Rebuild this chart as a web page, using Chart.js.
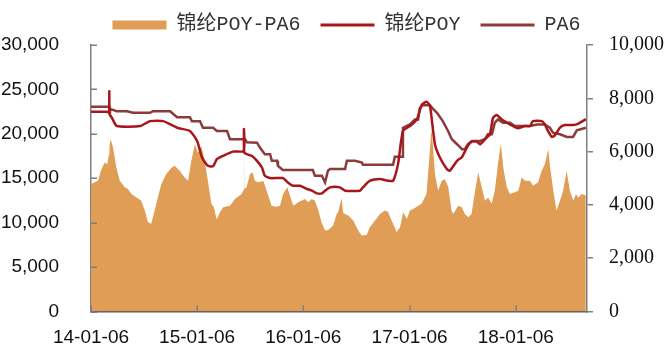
<!DOCTYPE html>
<html>
<head>
<meta charset="utf-8">
<script src="https://cdn.jsdelivr.net/npm/chart.js@4.4.1/dist/chart.umd.min.js"></script>
<style>
  html, body { margin: 0; padding: 0; background: #fff; }
  #wrap { width: 665px; height: 347px; }
</style>
</head>
<body>
<div id="wrap"><canvas id="spreadChart" width="665" height="347"></canvas></div>
<script>
// 锦纶POY - PA6 价差 (右轴, 面积)
const spreadDates = [
  "2014-01-06","2014-01-30","2014-02-09","2014-02-22","2014-03-03","2014-03-09","2014-03-10","2014-03-11",
  "2014-03-14","2014-03-23","2014-04-03","2014-04-15","2014-05-02","2014-05-13","2014-05-25","2014-06-11",
  "2014-06-28","2014-07-10","2014-07-21","2014-08-01","2014-08-13","2014-08-24","2014-09-05","2014-09-22",
  "2014-10-09","2014-10-21","2014-11-07","2014-11-24","2014-12-06","2014-12-17","2014-12-29","2015-01-09",
  "2015-01-20","2015-02-01","2015-02-12","2015-02-24","2015-03-05","2015-03-14","2015-03-26","2015-04-06",
  "2015-04-29","2015-05-16","2015-06-08","2015-06-15","2015-06-16","2015-06-17","2015-06-25","2015-07-07",
  "2015-07-16","2015-07-24","2015-08-04","2015-08-22","2015-09-02","2015-09-19","2015-10-07","2015-10-18",
  "2015-10-29","2015-11-12","2015-11-21","2015-12-03","2015-12-20","2016-01-12","2016-01-23","2016-02-04",
  "2016-02-15","2016-02-27","2016-03-09","2016-03-21","2016-04-01","2016-04-18","2016-04-30","2016-05-05",
  "2016-05-17","2016-05-22","2016-06-09","2016-06-26","2016-07-13","2016-07-25","2016-08-11","2016-08-22",
  "2016-09-09","2016-09-26","2016-10-13","2016-10-24","2016-11-05","2016-11-22","2016-12-04","2016-12-15",
  "2016-12-27","2017-01-07","2017-01-18","2017-02-05","2017-02-16","2017-03-05","2017-03-13","2017-03-21",
  "2017-03-22","2017-03-23","2017-04-03","2017-04-14","2017-04-26","2017-05-07","2017-05-19","2017-05-30",
  "2017-06-05","2017-06-22","2017-07-04","2017-07-15","2017-07-27","2017-08-07","2017-08-19","2017-08-30",
  "2017-09-11","2017-09-22","2017-10-03","2017-10-15","2017-10-26","2017-11-07","2017-11-16","2017-11-24",
  "2017-12-06","2017-12-17","2018-01-03","2018-01-15","2018-01-26","2018-02-07","2018-02-24","2018-03-07",
  "2018-03-24","2018-04-05","2018-04-16","2018-04-28","2018-05-03","2018-05-15","2018-05-26","2018-06-07",
  "2018-06-18","2018-06-30","2018-07-11","2018-07-23","2018-08-01","2018-08-09","2018-08-21","2018-09-04"
];
const spreadValues = [
  4780,4910,5280,5590,5530,5900,8700,6200,
  6460,6150,5400,4910,4660,4600,4410,4280,
  4160,3790,3350,3290,3790,4280,4780,5160,
  5380,5470,5280,5030,4910,5650,6280,5960,
  6210,5650,4910,4040,3900,3450,3730,3910,
  3970,4220,4410,4560,6800,4600,4660,5160,
  5220,4910,4850,4900,4530,3970,3930,3970,
  4410,4660,4350,3970,4100,4220,4100,4220,
  4160,3790,3350,3040,3060,3230,3660,3730,
  4250,3700,3600,3410,3040,2850,2870,3160,
  3410,3660,3790,3730,3410,2980,3160,3730,
  3470,3790,3850,3970,4040,4410,5530,6700,
  7600,6900,5160,4530,4900,4970,4660,3790,
  3660,3970,3910,3660,3540,3660,4530,5220,
  4660,4160,4280,4040,4530,5650,6300,5400,
  4660,4410,4470,4530,5030,4910,4900,4720,
  4850,5280,5530,6090,5530,4530,3790,4160,
  4530,5280,4530,4160,4410,4280,4410,4350
];

// 锦纶POY 价格 (左轴)
const poyDates = [
  "2014-01-06","2014-03-02","2014-03-09","2014-03-10","2014-03-11","2014-03-19","2014-04-05","2014-06-24",
  "2014-07-28","2014-09-11","2014-10-29","2014-12-12","2015-01-06","2015-01-23","2015-02-12","2015-03-02",
  "2015-03-15","2015-04-05","2015-05-09","2015-06-15","2015-06-16","2015-06-17","2015-06-26","2015-07-14",
  "2015-07-31","2015-08-17","2015-08-27","2015-09-14","2015-10-28","2015-11-14","2015-12-02","2015-12-26",
  "2016-01-19","2016-02-05","2016-02-22","2016-03-10","2016-03-21","2016-04-07","2016-05-11","2016-05-29",
  "2016-07-19","2016-07-29","2016-08-23","2016-09-26","2016-10-23","2016-11-10","2016-11-27","2016-12-14",
  "2017-01-07","2017-01-31","2017-02-17","2017-03-06","2017-03-17","2017-04-03","2017-04-20","2017-05-14",
  "2017-05-24","2017-06-18","2017-07-05","2017-07-25","2017-08-08","2017-08-25","2017-09-05","2017-09-22",
  "2017-10-09","2017-10-20","2017-11-02","2017-11-19","2017-12-07","2017-12-27","2018-01-13","2018-02-06",
  "2018-02-24","2018-03-06","2018-04-06","2018-04-16","2018-04-27","2018-05-10","2018-05-21","2018-06-07",
  "2018-06-24","2018-07-22","2018-08-08","2018-09-04"
];
const poyValues = [
  22480,22480,22400,24800,22200,21800,20880,20880,
  21430,21430,20690,20320,19200,17330,16400,16350,
  17150,17520,18000,18080,20540,17900,17710,17500,
  16960,16210,15280,15020,15020,14530,14160,14160,
  13790,13600,13300,13300,13600,13970,13970,13600,
  13600,13970,14720,14910,14720,14720,16590,20320,
  20880,21620,23300,23600,23120,18830,17330,16030,
  15840,16960,17400,18640,19120,19120,18830,19390,
  19950,21810,22110,21620,21250,20880,20620,20880,
  20880,21430,21430,21060,20320,19650,19850,20690,
  20990,20990,21130,21650
];

// PA6 价格 (左轴)
const pa6Dates = [
  "2014-01-06","2014-03-09","2014-03-12","2014-04-05","2014-05-10","2014-05-30","2014-07-28","2014-08-07",
  "2014-10-05","2014-10-29","2014-12-12","2014-12-19","2015-01-16","2015-01-26","2015-03-02","2015-03-15",
  "2015-04-19","2015-04-29","2015-06-20","2015-06-26","2015-07-31","2015-08-10","2015-08-27","2015-09-14",
  "2015-09-20","2015-10-08","2015-10-11","2015-10-28","2016-02-08","2016-02-15","2016-03-10","2016-03-21",
  "2016-03-31","2016-04-07","2016-05-29","2016-06-04","2016-07-02","2016-07-26","2016-07-29","2016-11-10",
  "2016-11-16","2016-12-11","2016-12-14","2017-01-07","2017-01-24","2017-02-04","2017-02-10","2017-02-21",
  "2017-03-17","2017-03-24","2017-04-10","2017-04-30","2017-05-18","2017-05-31","2017-06-18","2017-07-05",
  "2017-07-15","2017-07-25","2017-08-08","2017-09-05","2017-09-22","2017-10-02","2017-10-16","2017-10-26",
  "2017-11-06","2017-11-23","2017-12-17","2018-01-03","2018-02-24","2018-03-20","2018-04-16","2018-05-03",
  "2018-05-14","2018-06-07","2018-07-01","2018-07-22","2018-08-04","2018-09-04"
];
const pa6Values = [
  23050,23050,22800,22550,22550,22370,22370,22550,
  22550,21880,21880,21430,21430,20690,20690,20320,
  20320,19390,19390,19050,19010,18450,17710,17710,
  16960,16960,16400,15920,15920,15280,15280,14530,
  15840,16030,16030,16960,16960,16770,16510,16510,
  17410,17410,20690,21060,21620,21620,22930,23230,
  23230,22930,22370,21430,20320,19390,18830,18270,
  18270,18830,19200,19200,19390,19950,19950,21250,
  21620,21250,21250,20880,20880,21060,21060,20690,
  20130,19950,19650,19650,20400,20690
];

// 横轴刻度
const xTickDates = ["2014-01-06", "2015-01-06", "2016-01-06", "2017-01-06", "2018-01-06"];
const xTickLabels = ["14-01-06", "15-01-06", "16-01-06", "17-01-06", "18-01-06"];

const baseTime = Date.UTC(2014, 0, 6);
const toDay = s => (Date.parse(s) - baseTime) / 864e5;
const toPoints = (dates, values) => dates.map((d, i) => ({ x: toDay(d), y: values[i] }));

const sansFont = "'Liberation Sans', Arial, sans-serif";
const serifFont = "'Liberation Serif', 'Times New Roman', serif";
const axisGray = "#7f7f7f";

// 左轴和横轴的刻度线朝里画
const innerTicks = {
  id: "innerTicks",
  afterDraw(chart) {
    const { ctx, chartArea, scales } = chart;
    ctx.save();
    ctx.strokeStyle = axisGray;
    ctx.lineWidth = 1.5;
    ctx.beginPath();
    scales.y.ticks.forEach(t => {
      const py = Math.round(scales.y.getPixelForValue(t.value)) + 0.25;
      ctx.moveTo(chartArea.left, py);
      ctx.lineTo(chartArea.left + 6, py);
    });
    scales.x.ticks.forEach(t => {
      const px = Math.round(scales.x.getPixelForValue(t.value)) + 0.25;
      ctx.moveTo(px, chartArea.bottom);
      ctx.lineTo(px, chartArea.bottom - 6);
    });
    ctx.stroke();
    ctx.restore();
  }
};

// 图例整体往右挪一点
const legendShift = {
  id: "legendShift",
  afterLayout(chart) {
    if (chart.legend) {
      chart.legend.left += 14;
      chart.legend.right += 14;
    }
  }
};

const ctx = document.getElementById("spreadChart").getContext("2d");
new Chart(ctx, {
  type: "line",
  data: {
    datasets: [
      {
        label: "锦纶POY-PA6",
        data: toPoints(spreadDates, spreadValues),
        yAxisID: "y1",
        fill: "origin",
        backgroundColor: "#df9d55",
        borderColor: "#df9d55",
        borderWidth: 0,
        pointRadius: 0,
        tension: 0,
        order: 3
      },
      {
        label: "锦纶POY",
        data: toPoints(poyDates, poyValues),
        yAxisID: "y",
        fill: false,
        borderColor: "#a8151a",
        borderWidth: 2.5,
        pointRadius: 0,
        tension: 0.2,
        order: 1
      },
      {
        label: "PA6",
        data: toPoints(pa6Dates, pa6Values),
        yAxisID: "y",
        fill: false,
        borderColor: "#8c3b3b",
        borderWidth: 2.5,
        pointRadius: 0,
        tension: 0,
        order: 2
      }
    ]
  },
  options: {
    responsive: false,
    animation: false,
    devicePixelRatio: 1,
    layout: { padding: { top: -5, left: 0, right: 0, bottom: 0 } },
    plugins: {
      tooltip: { enabled: false },
      legend: {
        display: true,
        position: "top",
        labels: {
          usePointStyle: true,
          pointStyleWidth: 54,
          boxHeight: 9,
          padding: 20,
          color: "#333",
          font: { family: "'Liberation Mono', 'Noto Sans CJK SC', monospace", size: 20 },
          sort: (a, b) => a.datasetIndex - b.datasetIndex,
          generateLabels(chart) {
            return chart.data.datasets.map((ds, i) => ({
              text: ds.label,
              datasetIndex: i,
              fillStyle: ds.fill ? ds.backgroundColor : ds.borderColor,
              strokeStyle: ds.borderColor,
              lineWidth: ds.fill ? 0 : 3,
              pointStyle: ds.fill ? "rect" : "line",
              fontColor: "#333",
              hidden: false
            }));
          }
        }
      }
    },
    scales: {
      x: {
        type: "linear",
        min: 0,
        max: 1706,
        afterBuildTicks: scale => {
          scale.ticks = xTickDates.map(d => ({ value: toDay(d) }));
        },
        afterFit: scale => { scale.height = 35.5; },
        grid: { display: false },
        border: { display: true, color: "#595959", width: 1.5 },
        ticks: {
          autoSkip: false,
          maxRotation: 0,
          padding: 7,
          color: "#111",
          font: { family: sansFont, size: 19 },
          callback: (value, index) => xTickLabels[index]
        }
      },
      y: {
        position: "left",
        min: 0,
        max: 30000,
        afterFit: scale => { scale.width = 91; },
        grid: { display: false },
        border: { display: true, color: axisGray, width: 1.5 },
        ticks: {
          stepSize: 5000,
          padding: 24,
          color: "#111",
          font: { family: sansFont, size: 19 },
          callback: v => v.toLocaleString("en-US")
        }
      },
      y1: {
        position: "right",
        min: 0,
        max: 10000,
        afterFit: scale => { scale.width = 78; },
        grid: { drawOnChartArea: false, drawTicks: true, tickLength: 6, color: axisGray, lineWidth: 1.5 },
        border: { display: true, color: axisGray, width: 1.5 },
        ticks: {
          stepSize: 2000,
          padding: 16,
          color: "#111",
          font: { family: serifFont, size: 20 },
          callback: v => v.toLocaleString("en-US")
        }
      }
    }
  },
  plugins: [innerTicks, legendShift]
});
</script>
</body>
</html>
